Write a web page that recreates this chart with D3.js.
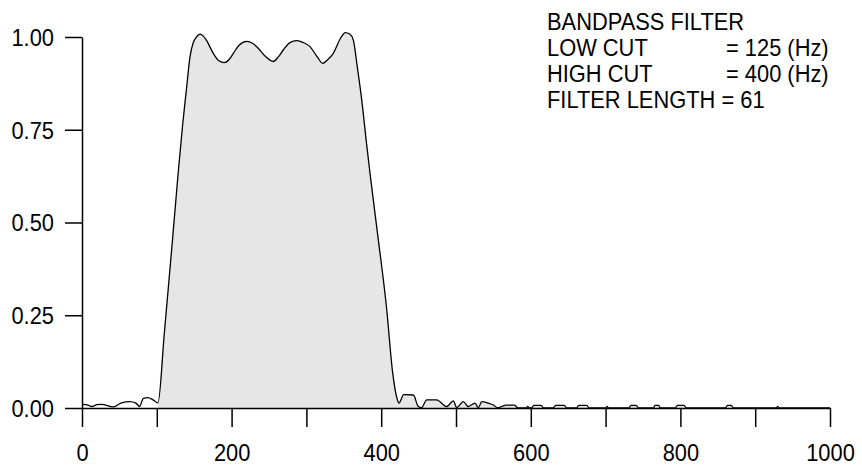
<!DOCTYPE html>
<html>
<head>
<meta charset="utf-8">
<script src="https://cdn.jsdelivr.net/npm/d3@7"></script>
<style>
  html, body { margin: 0; padding: 0; background: #fff; }
  svg text { font-family: "Liberation Sans", Arial, Helvetica, sans-serif; fill: #000; }
</style>
</head>
<body>
<svg id="chart" width="862" height="472"></svg>
<script>
// ---- data ----
const freq = [
  0, 8, 13, 20, 26, 42, 53, 64, 72, 77, 82, 88, 95,
  101.6, 110, 120, 128, 134.6, 140, 144.4, 148.8, 153, 157.8, 162, 166.7,
  175.5, 183, 190.2, 197, 202.3, 210, 220.2, 228, 233.6, 245, 255.7, 262,
  269.1, 278, 287, 296, 304.8, 314, 321.8, 328, 336, 346, 352, 358, 362.7,
  368, 374, 380, 385, 396, 407, 415.4, 420, 424, 427, 430, 443, 449.6, 454,
  460.8, 474, 487.6, 496.4, 501, 509.8, 516.4, 525.4, 529.8, 534.4, 543.2, 550,
  556, 563, 567, 578, 583, 594, 596, 598, 601, 604, 614, 617, 630, 633, 645, 648,
  661, 664, 675, 678, 700, 702, 704, 731, 734, 741, 744, 764, 766, 771, 773,
  793, 796, 805, 808, 860, 863, 868, 871, 928, 930, 932, 1000
];
const gain = [
  0.010, 0.008, 0.004, 0.009, 0.010, 0.003, 0.014, 0.017, 0.013, 0.004, 0.026, 0.028, 0.022,
  0.014, 0.20, 0.43, 0.62, 0.765, 0.866, 0.947, 0.985, 1.000, 1.008, 1.003, 0.990,
  0.956, 0.936, 0.931, 0.940, 0.956, 0.978, 0.988, 0.983, 0.974, 0.948, 0.934, 0.945,
  0.965, 0.985, 0.990, 0.985, 0.974, 0.948, 0.929, 0.938, 0.956, 0.998, 1.012, 1.008, 0.992,
  0.92, 0.83, 0.72, 0.633, 0.456, 0.273, 0.094, 0.035, 0.013, 0.025, 0.036, 0.035, 0.004, 0.001,
  0.022, 0.022, 0.004, 0.019, 0.001, 0.017, 0.004, 0.013, 0.001, 0.017, 0.013, 0.008,
  0, 0.006, 0.008, 0.008, 0, 0, 0.004, 0, 0, 0.007, 0.007, 0, 0, 0.007, 0.007, 0,
  0, 0.007, 0.007, 0, 0, 0.004, 0, 0, 0.007, 0.007, 0, 0, 0.007, 0.007, 0,
  0, 0.007, 0.007, 0, 0, 0.007, 0.007, 0, 0, 0.004, 0, 0
];
const fillStart = 101.6;           // shaded region starts here
const xTicks = [0, 100, 200, 300, 400, 500, 600, 700, 800, 900, 1000];
const xLabelled = [0, 200, 400, 600, 800, 1000];
const yTicks = [0, 0.25, 0.5, 0.75, 1.0];
const infoLines = [
  ["BANDPASS FILTER", ""],
  ["LOW CUT", "= 125 (Hz)"],
  ["HIGH CUT", "= 400 (Hz)"],
  ["FILTER LENGTH = 61", ""]
];

// ---- drawing ----
const FS = 23.5;     // font size
const SX = 0.93;     // horizontal condensing of the lettering
const svg = d3.select("#chart");
const x = d3.scaleLinear().domain([0, 1000]).range([82, 830]);
const y = d3.scaleLinear().domain([0, 1]).range([408, 37]);

const pts = freq.map((f, i) => ({ f, g: gain[i] }));
const fillPts = pts.filter(d => d.f >= fillStart);

const area = d3.area()
  .x(d => x(d.f)).y0(y(0)).y1(d => y(d.g))
  .curve(d3.curveMonotoneX);
const line = d3.line()
  .x(d => x(d.f)).y(d => y(d.g))
  .curve(d3.curveMonotoneX);

svg.append("path").datum(fillPts)
  .attr("d", area).attr("fill", "#e6e6e6").attr("stroke", "none");

svg.append("path").datum(pts)
  .attr("d", line).attr("fill", "none")
  .attr("stroke", "#000").attr("stroke-width", 1.3);

const xAxis = d3.axisBottom(x)
  .tickValues(xTicks)
  .tickFormat(d => xLabelled.includes(d) ? String(d) : "")
  .tickSize(19).tickSizeOuter(0).tickPadding(17);
const gx = svg.append("g").attr("transform", `translate(0,${y(0)})`).call(xAxis);

const yAxis = d3.axisLeft(y)
  .tickValues(yTicks)
  .tickFormat(d3.format(".2f"))
  .tickSize(17).tickSizeOuter(0).tickPadding(11);
const gy = svg.append("g").attr("transform", `translate(${x(0)},0)`).call(yAxis);

[gx, gy].forEach(g => {
  g.selectAll("path.domain").attr("stroke", "#000").attr("stroke-width", 1.5);
  g.selectAll(".tick line").attr("stroke", "#000").attr("stroke-width", 1.5);
  g.selectAll(".tick text")
    .style("font-family", '"Liberation Sans", Arial, Helvetica, sans-serif')
    .style("font-size", FS + "px").attr("fill", "#000");
});
// condense labels horizontally, keeping their anchor position
gx.selectAll(".tick text").attr("transform", `scale(${SX},1)`);
gy.selectAll(".tick text").each(function () {
  const t = d3.select(this);
  const x0 = +t.attr("x");
  t.attr("x", x0 / SX).attr("transform", `scale(${SX},1)`).attr("dy", "0.36em");
});

const info = svg.append("g");
infoLines.forEach((ln, i) => {
  const by = 30 + i * 26;
  info.append("text")
    .attr("transform", `translate(547,${by}) scale(${SX},1)`)
    .style("font-size", FS + "px").text(ln[0]);
  if (ln[1]) {
    info.append("text")
      .attr("transform", `translate(726,${by}) scale(${SX},1)`)
      .style("font-size", FS + "px").text(ln[1]);
  }
});
</script>
</body>
</html>
